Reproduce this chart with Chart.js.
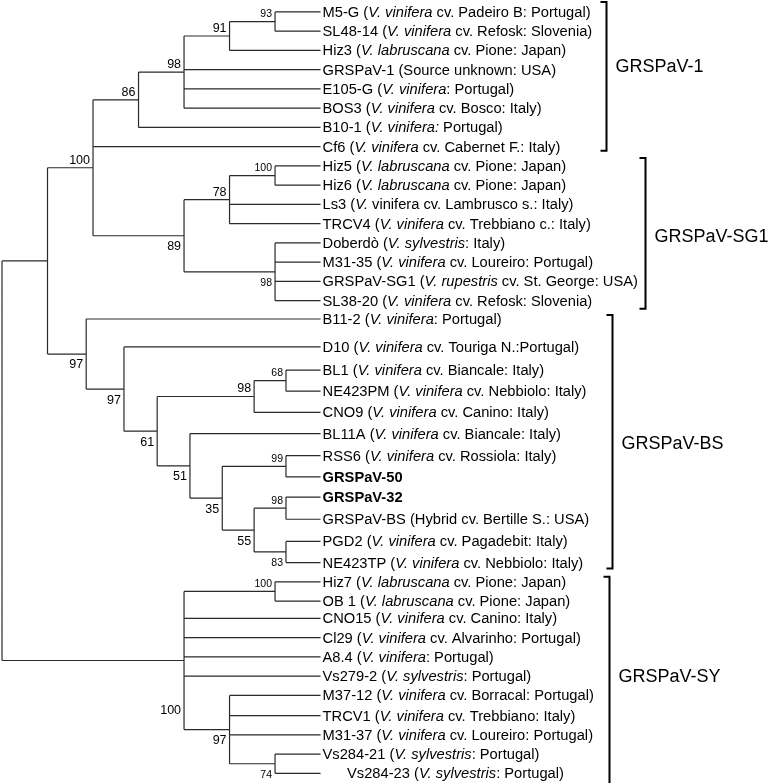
<!DOCTYPE html>
<html lang="en">
<head>
    <meta charset="UTF-8">
    <title>GRSPaV phylogenetic tree</title>
    <script src="https://cdn.jsdelivr.net/npm/chart.js"></script>
    <style>
        body {
            margin: 0;
            padding: 0;
            background-color: #ffffff;
        }

        #treeChart {
            display: block;
        }
    </style>
</head>
<body>
    <canvas id="treeChart" width="772" height="783"></canvas>

    <script>
        // Leaf labels, top to bottom. *...* = italic, leading # = bold
        const leafLabels = [
            'M5-G (*V. vinifera* cv. Padeiro B: Portugal)',
            'SL48-14 (*V. vinifera* cv. Refosk: Slovenia)',
            'Hiz3 (*V. labruscana* cv. Pione: Japan)',
            'GRSPaV-1 (Source unknown: USA)',
            'E105-G (*V. vinifera*: Portugal)',
            'BOS3 (*V. vinifera* cv. Bosco: Italy)',
            'B10-1 (*V. vinifera:* Portugal)',
            'Cf6 (*V. vinifera* cv. Cabernet F.: Italy)',
            'Hiz5 (*V. labruscana* cv. Pione: Japan)',
            'Hiz6 (*V. labruscana* cv. Pione: Japan)',
            'Ls3 (*V.* vinifera cv. Lambrusco s.: Italy)',
            'TRCV4 (*V. vinifera* cv. Trebbiano c.: Italy)',
            'Doberdò (*V. sylvestris*: Italy)',
            'M31-35 (*V. vinifera* cv. Loureiro: Portugal)',
            'GRSPaV-SG1 (*V. rupestris* cv. St. George: USA)',
            'SL38-20 (*V. vinifera* cv. Refosk: Slovenia)',
            'B11-2 (*V. vinifera*: Portugal)',
            'D10 (*V. vinifera* cv. Touriga N.:Portugal)',
            'BL1 (*V. vinifera* cv. Biancale: Italy)',
            'NE423PM (*V. vinifera* cv. Nebbiolo: Italy)',
            'CNO9 (*V. vinifera* cv. Canino: Italy)',
            'BL11A (*V. vinifera* cv. Biancale: Italy)',
            'RSS6 (*V. vinifera* cv. Rossiola: Italy)',
            '#GRSPaV-50',
            '#GRSPaV-32',
            'GRSPaV-BS (Hybrid cv. Bertille S.: USA)',
            'PGD2 (*V. vinifera* cv. Pagadebit: Italy)',
            'NE423TP (*V. vinifera* cv. Nebbiolo: Italy)',
            'Hiz7 (*V. labruscana* cv. Pione: Japan)',
            'OB 1 (*V. labruscana* cv. Pione: Japan)',
            'CNO15 (*V. vinifera* cv. Canino: Italy)',
            'Cl29 (*V. vinifera* cv. Alvarinho: Portugal)',
            'A8.4 (*V. vinifera*: Portugal)',
            'Vs279-2 (*V. sylvestris*: Portugal)',
            'M37-12 (*V. vinifera* cv. Borracal: Portugal)',
            'TRCV1 (*V. vinifera* cv. Trebbiano: Italy)',
            'M31-37 (*V. vinifera* cv. Loureiro: Portugal)',
            'Vs284-21 (*V. sylvestris*: Portugal)',
            '      Vs284-23 (*V. sylvestris*: Portugal)'
        ];

        // Row of each leaf (the BS group is drawn a little more spread out)
        const leafRows = [
            0, 1, 2, 3, 4, 5, 6, 7, 8, 9, 10, 11, 12, 13, 14, 15,
            15.95, 17.4, 18.6, 19.7, 20.8, 21.9, 23.05, 24.15, 25.2, 26.35, 27.5, 28.6,
            29.6, 30.6, 31.5, 32.5, 33.5, 34.5, 35.5, 36.55, 37.55, 38.55, 39.55
        ];

        const leafDepth = 7;

        // Internal nodes: children are leaf indices (numbers) or node ids ('n..')
        const nodeIds = ['n0', 'n1', 'n2', 'n3', 'n4', 'n5', 'n5a', 'n6', 'n7', 'n8', 'n9',
            'n10', 'n11', 'n12', 'n13', 'n14', 'n15', 'n16', 'n17', 'n18', 'n19', 'n19b',
            'n20', 'n21', 'n22', 'n23'];
        const nodeDepth = [0, 1, 2, 3, 4, 5, 6, 4, 5, 6, 6,
            1.85, 2.68, 3.41, 5.54, 6.24, 4.13, 4.84, 6.24, 5.54, 6.24, 6.24,
            4, 6, 5, 6];
        const nodeChildren = [
            ['n1', 'n20'],
            ['n2', 'n10'],
            ['n3', 7, 'n6'],
            ['n4', 6],
            ['n5', 3, 4, 5],
            ['n5a', 2],
            [0, 1],
            ['n7', 'n9'],
            ['n8', 10, 11],
            [8, 9],
            [12, 13, 14, 15],
            [16, 'n11'],
            [17, 'n12'],
            ['n13', 'n15'],
            ['n14', 20],
            [18, 19],
            [21, 'n16'],
            ['n17', 'n18'],
            [22, 23],
            ['n19', 'n19b'],
            [24, 25],
            [26, 27],
            ['n21', 30, 31, 32, 33, 'n22'],
            [28, 29],
            [34, 35, 36, 'n23'],
            [37, 38]
        ];
        // Bootstrap support values
        const nodeSupport = [null, null, 100, 86, 98, 91, 93, 89, 78, 100, 98,
            97, 97, 61, 98, 68, 51, 35, 99, 55, 98, 83,
            100, 100, 97, 74];
        // where the support value sits: a = above branch, b = below, c = well below
        const supportSide = ['', '', 'a', 'a', 'a', 'a', 'a', 'b', 'a', 'a', 'b',
            'b', 'b', 'b', 'a', 'a', 'b', 'b', 'a', 'b', 'a', 'b',
            'c', 'a', 'b', 'b'];

        // Clades marked with brackets
        const cladeNames = ['GRSPaV-1', 'GRSPaV-SG1', 'GRSPaV-BS', 'GRSPaV-SY'];
        const cladeFirst = [0, 8, 16, 28];
        const cladeLast = [7, 15, 27, 38];

        // ---- compute node positions from the topology ----
        const nodeIndex = {};
        nodeIds.forEach((id, i) => nodeIndex[id] = i);

        function childPos(c) {
            if (typeof c === 'number') return { x: leafDepth, y: leafRows[c] };
            const i = nodeIndex[c];
            return { x: nodeDepth[i], y: nodeRow(i) };
        }

        function nodeRow(i) {
            const ch = nodeChildren[i];
            const first = childPos(ch[0]).y;
            const last = childPos(ch[ch.length - 1]).y;
            return (first + last) / 2;
        }

        // Branch segments, separated by gaps
        const branchPoints = [];
        nodeIds.forEach((id, i) => {
            const ch = nodeChildren[i].map(childPos);
            const x = nodeDepth[i];
            branchPoints.push({ x: x, y: ch[0].y }, { x: x, y: ch[ch.length - 1].y }, { x: null, y: null });
            ch.forEach(p => {
                branchPoints.push({ x: x, y: p.y }, { x: p.x, y: p.y }, { x: null, y: null });
            });
        });

        const FONT = "'Liberation Sans', Arial, sans-serif";

        function drawRich(ctx, text, x, y, size) {
            let bold = false;
            if (text[0] === '#') { bold = true; text = text.slice(1); }
            const parts = text.split('*');
            let cx = x;
            parts.forEach((p, k) => {
                const italic = k % 2 === 1;
                ctx.font = (italic ? 'italic ' : '') + (bold ? 'bold ' : '') + size + 'px ' + FONT;
                ctx.fillText(p, cx, y);
                cx += ctx.measureText(p).width;
            });
            return cx - x;
        }

        const treeLabels = {
            id: 'treeLabels',
            afterDatasetsDraw(chart) {
                const ctx = chart.ctx;
                const xs = chart.scales.x, ys = chart.scales.y;
                ctx.save();
                ctx.fillStyle = '#000';
                ctx.textBaseline = 'alphabetic';
                ctx.textAlign = 'left';

                // leaf labels
                const leafEnd = xs.getPixelForValue(leafDepth);
                const ends = [];
                leafLabels.forEach((t, i) => {
                    const y = ys.getPixelForValue(leafRows[i]);
                    const w = drawRich(ctx, t, leafEnd + 2, y + 5, 14.7);
                    ends.push(leafEnd + 2 + w);
                });

                // bootstrap values
                ctx.textAlign = 'right';
                ctx.textBaseline = 'middle';
                nodeIds.forEach((id, i) => {
                    if (nodeSupport[i] == null) return;
                    const onlyLeaves = nodeChildren[i].every(c => typeof c === 'number');
                    const size = onlyLeaves ? 10.5 : 12.5;
                    ctx.font = size + 'px ' + FONT;
                    const x = xs.getPixelForValue(nodeDepth[i]) - 3;
                    const y = ys.getPixelForValue(nodeRow(i));
                    let dy = -7.5;
                    if (supportSide[i] === 'b') dy = 11;
                    if (supportSide[i] === 'c') dy = 50;
                    ctx.fillText(String(nodeSupport[i]), x, y + dy);
                });

                // clade brackets
                const gap = [14, 7, 23, 15];
                const padTop = [10, 8, 4, 5];
                const padBottom = [4, 8, 6, 19];
                const labelDy = [-9, 4, 2, -8];
                ctx.strokeStyle = '#000';
                ctx.lineWidth = 2;
                ctx.textAlign = 'left';
                cladeNames.forEach((name, k) => {
                    let maxEnd = 0;
                    for (let i = cladeFirst[k]; i <= cladeLast[k]; i++) maxEnd = Math.max(maxEnd, ends[i]);
                    const bx = Math.round(maxEnd + gap[k]) + 0.5;
                    const y0 = ys.getPixelForValue(leafRows[cladeFirst[k]]) - padTop[k];
                    const y1 = ys.getPixelForValue(leafRows[cladeLast[k]]) + padBottom[k];
                    ctx.beginPath();
                    ctx.moveTo(bx - 6, y0);
                    ctx.lineTo(bx, y0);
                    ctx.lineTo(bx, y1);
                    ctx.lineTo(bx - 6, y1);
                    ctx.stroke();
                    ctx.font = '18px ' + FONT;
                    ctx.fillText(name, bx + 9, (y0 + y1) / 2 + labelDy[k]);
                });
                ctx.restore();
            }
        };

        const ctx = document.getElementById('treeChart').getContext('2d');
        const treeChart = new Chart(ctx, {
            type: 'scatter',
            data: {
                datasets: [{
                    label: 'branches',
                    data: branchPoints,
                    showLine: true,
                    spanGaps: false,
                    borderColor: '#2a2a2a',
                    borderWidth: 1.2,
                    pointRadius: 0,
                    pointHoverRadius: 0,
                    tension: 0
                }]
            },
            options: {
                responsive: false,
                animation: false,
                layout: { padding: 0 },
                scales: {
                    x: { type: 'linear', display: false, min: -0.044, max: 16.92 },
                    y: { type: 'linear', display: false, reverse: true, min: -0.62, max: 40.05 }
                },
                plugins: {
                    legend: { display: false },
                    tooltip: { enabled: false }
                }
            },
            plugins: [treeLabels]
        });
    </script>
</body>
</html>
